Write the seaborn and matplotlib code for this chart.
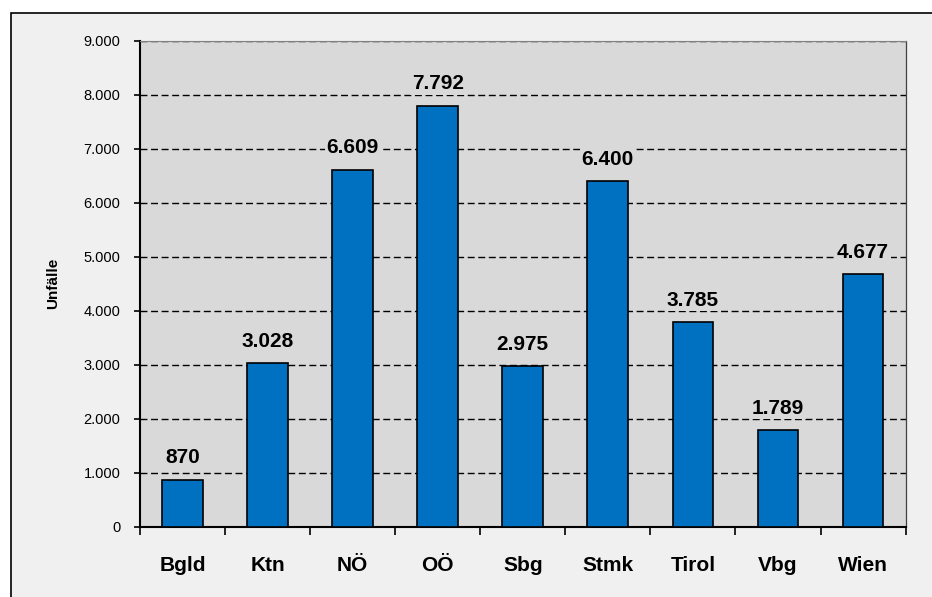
import seaborn as sns
import pandas as pd
import numpy as np
import matplotlib.pyplot as plt
from matplotlib.patches import Rectangle
from matplotlib.ticker import FixedLocator, FuncFormatter

laender = ['Bgld', 'Ktn', 'NÖ', 'OÖ', 'Sbg', 'Stmk', 'Tirol', 'Vbg', 'Wien']
unfaelle = [870, 3028, 6609, 7792, 2975, 6400, 3785, 1789, 4677]
y_ticks = [0, 1000, 2000, 3000, 4000, 5000, 6000, 7000, 8000, 9000]

df = pd.DataFrame({'Land': laender, 'Unfälle': unfaelle})

def punkt(v, pos=None):
    return f'{int(v):,}'.replace(',', '.')

sns.set_style('white', {'axes.facecolor': '#D9D9D9'})
plt.rcParams['font.family'] = ['Liberation Sans', 'DejaVu Sans']
plt.rcParams['text.color'] = 'black'
plt.rcParams['axes.labelcolor'] = 'black'

fig = plt.figure(figsize=(9.32, 5.97), dpi=100)
fig.patch.set_facecolor('white')
# outer frame of the chart area
frame = Rectangle((11 / 932, -0.05), 1.0, 1 - 13 / 597 + 0.05,
                  transform=fig.transFigure, facecolor='#F0F0F0',
                  edgecolor='black', linewidth=1.2)
frame.set_zorder(-5)
fig.add_artist(frame)

ax = fig.add_axes([140 / 932, 1 - 527 / 597, (905.6 - 140) / 932, (527 - 40.5) / 597])
ax.set_zorder(2)
ax.set_facecolor('#D9D9D9')

sns.barplot(data=df, x='Land', y='Unfälle', color='#0070C0', saturation=1,
            edgecolor='black', linewidth=1.2, width=0.48, ax=ax, zorder=3)

ax.set_ylim(0, 9000)
ax.set_xlim(-0.5, len(laender) - 0.5)
ax.yaxis.set_major_locator(FixedLocator(y_ticks))
ax.yaxis.set_major_formatter(FuncFormatter(punkt))
ax.grid(axis='y', color='black', linestyle=(0, (5, 2.6)), linewidth=1.0, zorder=1)
ax.set_axisbelow(True)

for i, v in enumerate(unfaelle):
    ax.annotate(punkt(v), (i, v), xytext=(0, 9), textcoords='offset points',
                ha='center', va='bottom', fontsize=15, fontweight='bold',
                color='black', zorder=4,
                bbox=dict(facecolor='#D9D9D9', edgecolor='none', pad=1))

ax.tick_params(axis='y', direction='out', length=4, width=1.2, labelsize=10.5,
               left=True, pad=10, colors='black')
ax.tick_params(axis='x', which='major', length=0, labelsize=15, pad=21,
               colors='black')
ax.set_xticks(np.arange(-0.5, len(laender)), minor=True)
ax.tick_params(axis='x', which='minor', direction='out', length=6, width=1.2,
               bottom=True, colors='black')
for lab in ax.get_xticklabels():
    lab.set_fontweight('bold')

ax.set_xlabel('')
ax.set_ylabel('Unfälle', fontsize=11, fontweight='bold', color='black')
ax.yaxis.set_label_coords(-0.104, 0.5)

for side in ['left', 'bottom']:
    ax.spines[side].set_color('black')
    ax.spines[side].set_linewidth(1.5)
ax.spines['right'].set_visible(True)
ax.spines['right'].set_color('#404040')
ax.spines['right'].set_linewidth(0.9)
ax.spines['top'].set_visible(True)
ax.spines['top'].set_color('#808080')
ax.spines['top'].set_linewidth(0.8)

fig.savefig('out.png', dpi=100)
